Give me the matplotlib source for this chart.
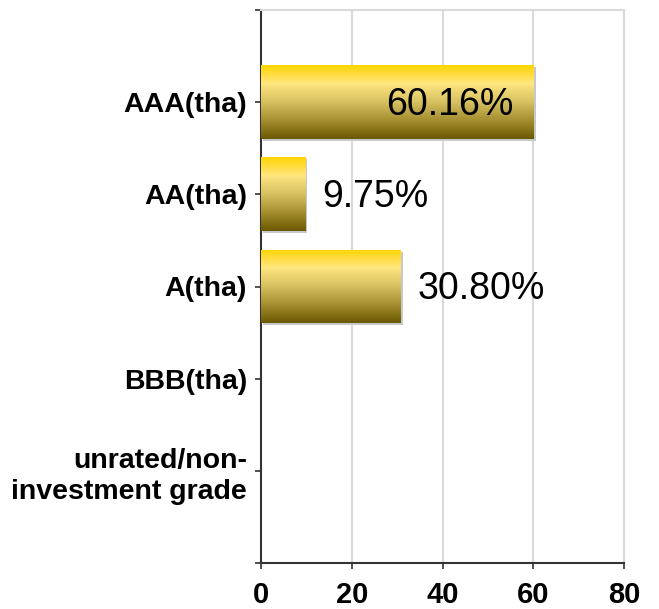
import numpy as np
import matplotlib
matplotlib.use('Agg')
import matplotlib.pyplot as plt
from matplotlib.colors import LinearSegmentedColormap
from matplotlib.patches import Rectangle

plt.rcParams['font.family'] = ['Liberation Sans', 'DejaVu Sans']

# Data
categories = ['AAA(tha)', 'AA(tha)', 'A(tha)', 'BBB(tha)', 'unrated/non-\ninvestment grade']
values = [60.16, 9.75, 30.80, 0, 0]
labels = ['60.16%', '9.75%', '30.80%', None, None]
x_ticks = [0, 20, 40, 60, 80]

# gold gradient, top -> bottom
grad = LinearSegmentedColormap.from_list('gold', [
    (0.0, '#FFD500'), (0.25, '#FFE680'), (0.5, '#D6C060'),
    (0.75, '#A48E30'), (1.0, '#6B5800')])

fig = plt.figure(figsize=(6.59, 6.09), dpi=100)
ax = fig.add_axes([261 / 659, 1 - 563 / 609, 363 / 659, 553 / 609])

pos = np.arange(1, len(categories) + 1)
bars = ax.barh(pos, values, height=0.8, facecolor='none', edgecolor='none', zorder=3)

g = np.linspace(0, 1, 256).reshape(-1, 1)
for b, v in zip(bars, values):
    if v <= 0:
        continue
    x0, y0 = b.get_x(), b.get_y()
    w, h = b.get_width(), b.get_height()
    # soft shadow
    sh = Rectangle((x0, y0), w, h, facecolor='#c8c8c8', edgecolor='none', zorder=2,
                   transform=ax.transData + matplotlib.transforms.ScaledTranslation(2 / 100, -2 / 100, fig.dpi_scale_trans))
    ax.add_patch(sh)
    im = ax.imshow(g, cmap=grad, aspect='auto', extent=(x0, x0 + w, y0 + h, y0),
                   origin='upper', zorder=3, interpolation='bilinear')
    im.set_clip_path(b)

for p, v, t in zip(pos, values, labels):
    if t is None:
        continue
    if v > 50:
        ax.annotate(t, (v, p), xytext=(-15, -2), textcoords='offset points',
                    ha='right', va='center', fontsize=27, zorder=5)
    else:
        ax.annotate(t, (v, p), xytext=(12, -2), textcoords='offset points',
                    ha='left', va='center', fontsize=27, zorder=5)

ax.set_xlim(0, 80)
ax.set_ylim(6, 0)
ax.set_xticks(x_ticks)
ax.set_xticklabels([str(t) for t in x_ticks], fontsize=21, fontweight='bold')
ax.set_yticks(range(0, 7))
ax.set_yticklabels([''] + categories + [''], fontsize=20.5, fontweight='bold', linespacing=1.25)
ax.tick_params(axis='both', direction='out', length=4, width=1.2, color='#333333')
ax.tick_params(axis='x', pad=9)
ax.tick_params(axis='y', pad=6)

ax.grid(axis='x', color='#d9d9d9', linewidth=1.5, zorder=0)
ax.set_axisbelow(True)
for s in ['top', 'right']:
    ax.spines[s].set_color('#d9d9d9')
    ax.spines[s].set_linewidth(1.5)
for s in ['left', 'bottom']:
    ax.spines[s].set_color('#333333')
    ax.spines[s].set_linewidth(1.5)

fig.savefig('out.png', dpi=100)
